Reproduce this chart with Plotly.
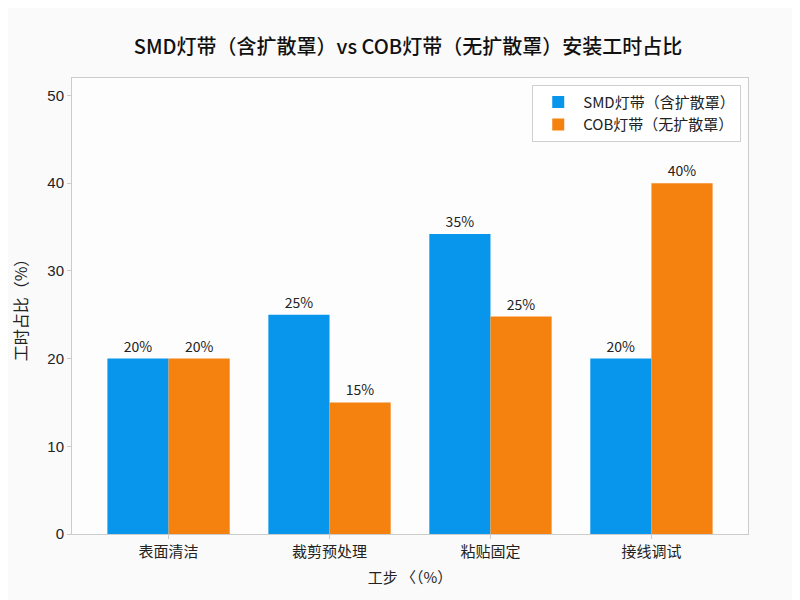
import plotly.graph_objects as go

categories = ["表面清洁", "裁剪预处理", "粘贴固定", "接线调试"]
smd_values = [20, 25, 34.2, 20]
cob_values = [20, 15, 24.8, 40]
smd_labels = ["20%", "25%", "35%", "20%"]
cob_labels = ["20%", "15%", "25%", "40%"]
y_ticks = [0, 10, 20, 30, 40, 50]

FONT = "Noto Sans CJK SC, Liberation Sans, sans-serif"

fig = go.Figure()
fig.add_trace(go.Bar(
    x=categories, y=smd_values, name="SMD灯带（含扩散罩）",
    marker=dict(color="#0896ec", line=dict(width=0)),
    text=smd_labels, textposition="outside", cliponaxis=False,
    textfont=dict(size=14, color="#222222", family=FONT),
))
fig.add_trace(go.Bar(
    x=categories, y=cob_values, name="COB灯带（无扩散罩）",
    marker=dict(color="#f5820f", line=dict(width=0)),
    text=cob_labels, textposition="outside", cliponaxis=False,
    textfont=dict(size=14, color="#222222", family=FONT),
))

fig.update_layout(
    width=800, height=600,
    barmode="group", bargap=0.24, bargroupgap=0,
    paper_bgcolor="#fafafa", plot_bgcolor="#fdfdfd",
    font=dict(family=FONT, size=14, color="#222222"),
    margin=dict(l=64, r=60, t=70, b=74),
    title=dict(text="SMD灯带（含扩散罩）vs COB灯带（无扩散罩）安装工时占比",
               x=0.5, xanchor="center", y=0.935, yanchor="middle",
               font=dict(size=20, color="#111111", family=FONT, weight=500)),
    legend=dict(x=0.99, y=0.985, xanchor="right", yanchor="top",
                bgcolor="rgba(255,255,255,0.9)", bordercolor="#d0d0d0", borderwidth=1,
                font=dict(size=15, family=FONT), itemwidth=40, tracegroupgap=2),
)
fig.update_xaxes(
    range=[-0.6, 3.6], showline=True, mirror=True, linecolor="#cccccc", linewidth=1,
    ticks="outside", ticklen=4, tickcolor="#cccccc", showgrid=False,
    tickfont=dict(size=15, color="#222222"),
    title=dict(text="工步 〈（%）", font=dict(size=15), standoff=12),
)
fig.update_yaxes(
    range=[0, 52], tickvals=y_ticks, showline=True, mirror=True, linecolor="#cccccc", linewidth=1,
    ticks="outside", ticklen=4, tickcolor="#cccccc", showgrid=False, zeroline=False,
    tickfont=dict(size=15, color="#222222", family="Liberation Sans, Arial, sans-serif"),
    title=dict(text="工时占比（%）", font=dict(size=16), standoff=16),
)

fig.write_html("out.html")
